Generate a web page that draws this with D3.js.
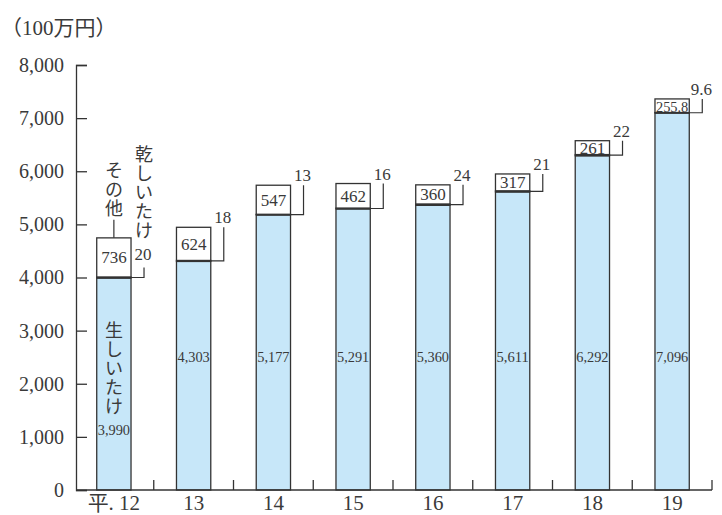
<!DOCTYPE html>
<html>
<head>
<meta charset="utf-8">
<script src="https://cdn.jsdelivr.net/npm/d3@7"></script>
<style>
  body { margin: 0; background: #fff; }
  svg, svg text { font-family: "Liberation Serif", "DejaVu Serif", "Noto Sans CJK JP", serif !important; }
  svg text { fill: #3a3a3a; }
</style>
</head>
<body>
<div id="chart"></div>
<script>
const years = ["平. 12", "13", "14", "15", "16", "17", "18", "19"];
const fresh = [3990, 4303, 5177, 5291, 5360, 5611, 6292, 7096];
const dried = [20, 18, 13, 16, 24, 21, 22, 9.6];
const other = [736, 624, 547, 462, 360, 317, 261, 255.8];
const freshLabels = ["3,990", "4,303", "5,177", "5,291", "5,360", "5,611", "6,292", "7,096"];
const driedLabels = ["20", "18", "13", "16", "24", "21", "22", "9.6"];
const otherLabels = ["736", "624", "547", "462", "360", "317", "261", "255.8"];
const yTicks = [0, 1000, 2000, 3000, 4000, 5000, 6000, 7000, 8000];

const width = 722, height = 515;
const keys = ["fresh", "dried", "other"];
const fills = { fresh: "#c7e7f9", dried: "#222", other: "#fff" };

const rows = years.map((yr, i) => ({ year: yr, fresh: fresh[i], dried: dried[i], other: other[i] }));
const series = d3.stack().keys(keys)(rows);

const x = d3.scaleBand().domain(years).range([74, 712]).paddingInner(0.57).paddingOuter(0.285);
const y = d3.scaleLinear().domain([0, 8000]).range([490, 65]);

const svg = d3.select("#chart").append("svg")
  .attr("width", width).attr("height", height);

// unit label
svg.append("text").attr("x", 1).attr("y", 35)
  .style("font-size", "21px").text("（100万円）");

// y axis, ticks pointing into the plot
const yAxis = svg.append("g").attr("transform", "translate(76,0)")
  .call(d3.axisLeft(y).tickValues(yTicks).tickFormat(d3.format(",")).tickSize(-11).tickPadding(12));
yAxis.attr("font-family", null).attr("font-size", null);
yAxis.selectAll("path, line").attr("stroke", "#333").attr("stroke-width", 1.3);
yAxis.selectAll("text").style("font-size", "20px");

// bars
const bw = x.bandwidth();
svg.append("g").selectAll("g").data(series).join("g")
  .attr("fill", d => fills[d.key])
  .selectAll("rect").data(d => d).join("rect")
  .attr("x", d => x(d.data.year))
  .attr("y", d => y(d[1]))
  .attr("width", bw)
  .attr("height", d => y(d[0]) - y(d[1]))
  .attr("stroke", "#333")
  .attr("stroke-width", 1.3);

// x baseline and separators
const base = y(0);
svg.append("line").attr("x1", 76).attr("x2", x.range()[1]).attr("y1", base).attr("y2", base)
  .attr("stroke", "#333").attr("stroke-width", 1.3);
const gap = x.step() * x.paddingInner() / 2;
svg.append("g").selectAll("line").data(years).join("line")
  .attr("x1", d => x(d) + bw + gap).attr("x2", d => x(d) + bw + gap)
  .attr("y1", base).attr("y2", base - 10)
  .attr("stroke", "#333").attr("stroke-width", 1.3);

// x labels
const xAxis = svg.append("g").attr("transform", `translate(0,${base})`)
  .call(d3.axisBottom(x).tickSize(0).tickPadding(5));
xAxis.attr("font-family", null).attr("font-size", null);
xAxis.select(".domain").remove();
xAxis.selectAll("text").style("font-size", "21px");

// fresh values
svg.append("g").selectAll("text").data(rows).join("text")
  .attr("x", d => x(d.year) + bw / 2)
  .attr("y", (d, i) => i === 0 ? y(2500) + 78 : y(2500) + 5)
  .attr("text-anchor", "middle")
  .style("font-size", "15px")
  .attr("textLength", bw - 2).attr("lengthAdjust", "spacingAndGlyphs")
  .text((d, i) => freshLabels[i]);

// other values, centred in the white segment
svg.append("g").selectAll("text").data(rows).join("text")
  .attr("x", d => x(d.year) + bw / 2)
  .attr("y", d => y(d.fresh + d.dried + d.other / 2) + 6)
  .attr("text-anchor", "middle")
  .style("font-size", (d, i) => i === 7 ? "15px" : "17px")
  .attr("textLength", (d, i) => i === 7 ? bw - 2 : null)
  .attr("lengthAdjust", "spacingAndGlyphs")
  .text((d, i) => otherLabels[i]);

// dried values with leader lines
const lead = 13;
const leaders = svg.append("g");
rows.forEach((d, i) => {
  const lx = x(d.year) + bw + lead;
  const ly = y(d.fresh + d.dried / 2);
  const top = i === 0 ? ly - 10 : y(d.fresh + d.dried + d.other);
  leaders.append("path")
    .attr("d", `M${x(d.year) + bw},${ly}H${lx}V${top}`)
    .attr("fill", "none").attr("stroke", "#333").attr("stroke-width", 1.2);
  leaders.append("text")
    .attr("x", lx - 1).attr("y", i === 0 ? ly - 18 : top - 4)
    .attr("text-anchor", "middle").style("font-size", "17px")
    .text(driedLabels[i]);
});

// series names written vertically on the first bar
function vertical(str, cx, firstY, pitch, size) {
  svg.append("g").selectAll("text").data(Array.from(str)).join("text")
    .attr("x", cx).attr("y", (c, k) => firstY + k * pitch)
    .attr("text-anchor", "middle").attr("dominant-baseline", "central")
    .style("font-size", size + "px").text(c => c);
}
const r0 = rows[0];
const cx0 = x(r0.year) + bw / 2;
const top0 = y(r0.fresh + r0.dried + r0.other);
svg.append("line").attr("x1", cx0).attr("x2", cx0).attr("y1", top0 - 18).attr("y2", top0)
  .attr("stroke", "#333").attr("stroke-width", 1.2);
vertical("その他", cx0, top0 - 67, 19, 18);
const dryY0 = y(r0.fresh + r0.dried / 2) - 25;
vertical("乾しいたけ", x(r0.year) + bw + lead, dryY0 - 22 - 4 * 19, 19, 18);
vertical("生しいたけ", cx0, y(2500) - 26, 19, 18);
</script>
</body>
</html>
